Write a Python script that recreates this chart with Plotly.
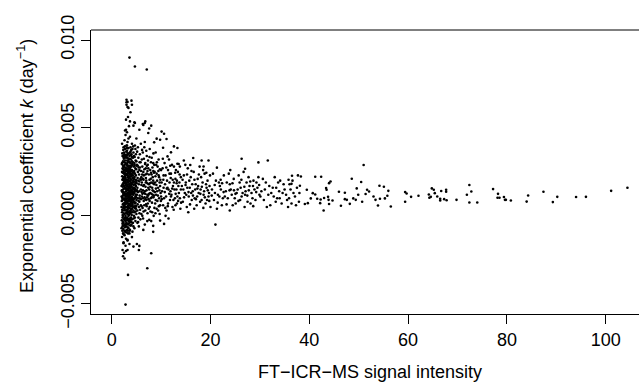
import plotly.graph_objects as go

# Values: (signal intensity, k in 1e-3 day^-1)
core = [
(2.1,0.2),(2.3,1.5),(2.2,-0.6),(2.4,2.8),(2.0,1.1),(2.2,3.4),(2.4,0.7),(2.1,-1.2),(2.3,2.1),(2.5,-0.2),
(2.2,1.8),(2.0,0.5),(2.4,3.9),(2.3,-1.0),(2.1,2.5),(2.5,1.2),(2.2,0.9),(2.4,-0.4),(2.0,1.7),(2.3,3.1),
(2.1,4.1),(2.4,1.9),(2.2,-0.1),(2.5,2.4),(2.3,0.3),(2.1,1.4),(2.4,-1.5),(2.2,2.7),(2.0,-0.7),(2.5,3.6),
(2.3,0.0),(2.2,1.0),(2.4,2.2),(2.1,3.0),(2.5,0.6),
(2.6,1.3),(2.8,-0.3),(2.7,2.6),(2.9,0.8),(2.6,4.3),(2.8,1.9),(3.0,0.2),(2.7,-0.9),(2.9,3.3),(2.6,2.0),
(2.8,0.5),(2.7,1.6),(3.0,2.9),(2.6,-0.5),(2.9,1.1),(2.7,3.8),(2.8,2.3),(2.6,0.1),(3.0,1.5),(2.9,-1.3),
(2.7,0.9),(2.8,3.0),(2.6,1.7),(3.0,4.0),(2.7,-0.1),(2.9,2.0),(2.8,1.2),(2.6,3.5),(3.0,0.7),(2.7,2.4),
(2.9,-0.6),(2.8,4.6),(2.6,0.4),(3.0,1.8),(2.7,1.0),(2.9,2.7),(2.8,-1.7),(2.6,2.9),(3.0,-0.4),(2.7,0.3),
(2.9,1.4),(2.8,0.0),(2.6,-1.1),(3.0,3.4),(2.7,1.9),
(3.1,1.0),(3.3,2.2),(3.2,-0.2),(3.4,1.6),(3.1,3.7),(3.3,0.4),(3.2,2.8),(3.5,1.3),(3.1,-0.8),(3.4,3.1),
(3.2,0.8),(3.3,1.9),(3.1,2.4),(3.5,-0.3),(3.4,0.6),(3.2,4.2),(3.3,-1.0),(3.1,1.5),(3.5,2.6),(3.4,1.1),
(3.2,0.1),(3.3,3.5),(3.1,0.5),(3.4,2.0),(3.5,0.9),(3.2,1.7),(3.3,-0.5),(3.1,2.9),(3.4,4.4),(3.2,1.3),
(3.5,3.2),(3.3,0.7),(3.1,-0.1),(3.4,-0.7),(3.2,2.3),(3.3,1.2),(3.5,1.8),(3.1,4.0),(3.4,2.7),(3.2,-1.4),
(3.3,2.5),(3.5,0.2),(3.1,1.9),(3.4,0.0),(3.2,3.3),
(3.6,1.4),(3.8,0.3),(3.7,2.5),(3.9,1.0),(3.6,-0.4),(3.8,3.0),(3.7,1.8),(3.9,-0.1),(3.6,2.2),(4.0,1.3),
(3.7,0.6),(3.8,3.9),(3.6,1.0),(3.9,2.4),(3.7,-0.8),(4.0,0.4),(3.8,1.6),(3.6,3.4),(3.9,0.8),(3.7,2.0),
(3.8,-0.3),(3.6,0.1),(4.0,2.8),(3.7,4.5),(3.9,1.7),(3.8,0.9),(3.6,2.7),(4.0,-0.5),(3.7,1.2),(3.9,3.2),
(3.8,2.1),(3.6,0.7),(4.0,1.9),(3.7,3.6),(3.9,0.2),(3.8,1.3),(3.6,-1.0),(4.0,3.5),(3.7,-0.2),(3.9,2.6),
(4.1,1.1),(4.3,2.3),(4.2,0.2),(4.4,1.6),(4.1,3.1),(4.3,-0.4),(4.2,1.9),(4.5,0.8),(4.1,2.6),(4.4,3.6),
(4.2,0.6),(4.3,1.3),(4.1,-0.2),(4.5,2.1),(4.4,0.3),(4.2,2.9),(4.3,1.0),(4.1,4.1),(4.5,1.5),(4.4,-0.6),
(4.2,1.4),(4.3,3.3),(4.1,0.9),(4.5,2.8),(4.4,1.9),(4.2,-0.9),(4.3,0.5),(4.1,1.8),(4.5,0.0),(4.4,2.5),
(4.2,3.8),(4.3,2.0),(4.1,0.4),(4.5,3.4),(4.4,1.2),
(4.6,1.3),(4.8,0.5),(4.7,2.4),(4.9,1.7),(4.6,3.0),(4.8,-0.3),(4.7,1.0),(5.0,2.0),(4.6,0.2),(4.9,3.5),
(4.7,1.8),(4.8,2.7),(4.6,-0.7),(5.0,0.9),(4.9,1.2),(4.7,4.0),(4.8,1.5),(4.6,2.2),(5.0,3.1),(4.9,0.4),
(4.7,0.7),(4.8,3.8),(4.6,1.6),(5.0,1.4),(4.9,2.3),(4.7,-0.1),(4.8,1.1),(4.6,2.9),(5.0,0.1),(4.9,1.9),
]

core_fill = [
(2.05,0.85),(2.15,2.05),(2.25,-0.35),(2.35,1.25),(2.45,3.25),(2.55,0.45),(2.65,2.25),(2.75,-0.55),(2.85,1.55),(2.95,3.65),
(2.05,2.95),(2.15,-0.85),(2.25,1.65),(2.35,3.75),(2.45,0.15),(2.55,1.95),(2.65,-0.25),(2.75,3.15),(2.85,0.85),(2.95,2.35),
(3.05,-0.45),(3.15,1.75),(3.25,3.05),(3.35,0.25),(3.45,2.15),(3.55,-0.15),(3.65,1.55),(3.75,3.25),(3.85,0.55),(3.95,2.05),
(3.05,2.65),(3.15,0.35),(3.25,1.45),(3.35,3.85),(3.45,1.05),(3.55,2.45),(3.65,0.25),(3.75,1.15),(3.85,2.85),(3.95,-0.35),
(4.05,1.65),(4.15,2.95),(4.25,0.75),(4.35,2.15),(4.45,-0.15),(4.55,1.35),(4.65,3.35),(4.75,0.55),(4.85,2.05),(4.95,1.05),
(4.05,0.05),(4.15,1.25),(4.25,2.45),(4.35,3.95),(4.45,0.95),(4.55,2.55),(4.65,0.45),(4.75,1.45),(4.85,3.15),(4.95,2.65),
(2.05,-0.25),(2.15,1.05),(2.25,2.45),(2.35,0.45),(2.45,1.85),(2.55,-0.85),(2.65,0.95),(2.75,2.05),(2.85,3.45),(2.95,0.15),
(3.05,1.25),(3.15,2.55),(3.25,-0.65),(3.35,1.95),(3.45,0.45),(3.55,3.55),(3.65,2.35),(3.75,-0.55),(3.85,1.35),(3.95,3.75),
(2.15,3.55),(2.35,-0.75),(2.55,2.75),(2.75,1.25),(2.95,-0.95),(3.15,3.15),(3.35,-0.25),(3.55,0.65),(3.75,2.65),(3.95,1.45),
(2.25,0.65),(2.45,2.55),(2.65,3.95),(2.85,-0.15),(3.05,3.85),(3.25,2.05),(3.45,2.85),(3.65,-0.85),(3.85,2.25),(4.25,1.55),
(2.05,1.45),(2.45,-1.05),(2.85,2.65),(3.25,0.85),(3.65,3.05),(4.05,2.35),(4.45,1.75),(4.85,0.25),(2.35,2.05),(3.75,0.65),
(2.12,0.35),(2.18,1.35),(2.28,2.85),(2.32,-0.55),(2.38,1.75),(2.42,0.95),(2.48,3.45),(2.52,1.55),(2.58,-0.15),(2.62,2.45),
(2.68,1.15),(2.72,3.35),(2.78,0.65),(2.82,2.15),(2.88,-0.45),(2.92,1.75),(2.98,2.95),(3.02,0.95),(3.08,2.05),(3.12,-0.25),
(3.18,1.15),(3.22,3.55),(3.28,0.55),(3.32,2.65),(3.38,1.45),(3.42,-0.45),(3.48,2.25),(3.52,1.05),(3.58,3.05),(3.62,0.45),
(3.68,1.95),(3.72,2.85),(3.78,0.15),(3.82,1.85),(3.88,3.45),(3.92,1.25),(3.98,0.75),(4.02,2.55),(4.08,1.45),(4.12,3.35),
(2.12,2.25),(2.22,0.05),(2.32,2.65),(2.42,1.35),(2.52,3.05),(2.62,0.75),(2.72,1.85),(2.82,-0.85),(2.92,2.55),(3.02,1.65),
(3.12,2.95),(3.22,0.25),(3.32,1.55),(3.42,3.25),(3.52,0.05),(3.62,1.75),(3.72,0.95),(3.82,3.65),(3.92,-0.55),(4.02,1.05),
(2.18,-0.45),(2.28,1.15),(2.38,3.35),(2.48,0.55),(2.58,2.15),(2.68,-0.65),(2.78,2.75),(2.88,1.25),(2.98,0.35),(3.08,3.45),
(3.18,2.35),(3.28,-0.85),(3.38,2.45),(3.48,1.65),(3.58,0.85),(3.68,2.75),(3.78,1.55),(3.88,0.35),(3.98,2.25),(4.18,0.65),
]

extremes = [
(3.0,6.6),(3.2,6.48),(4.0,6.55),(3.0,6.32),(4.1,6.32),(3.4,6.14),(3.8,5.89),
(2.9,5.47),(4.7,5.28),(4.4,5.13),(6.3,5.22),(6.8,5.37),(5.6,4.9),(7.4,4.71),
(3.6,9.0),(4.7,8.49),(7.1,8.32),
(4.6,5.32),(6.7,5.28),(6.4,5.17),(8.0,5.13),(7.6,4.97),(10.1,4.79),(10.6,4.67),(9.1,4.39),
(9.8,4.33),(11.1,4.37),(8.6,4.18),(10.4,3.87),(12.6,3.95),(13.3,3.86),(12.0,3.61),(11.3,3.38),
(13.3,2.96),(14.6,3.15),(15.9,2.89),(16.5,3.29),(18.2,3.15),(19.6,3.15),(18.6,2.81),(26.3,3.25),
(27.0,2.68),(21.3,2.74),(29.7,3.04),(31.6,3.15),
(3.0,6.46),(3.2,6.19),(3.3,5.62),(3.7,5.37),(3.5,5.1),(2.9,4.9),(3.1,4.75),(2.7,4.85),
(2.8,-5.05),(3.3,-3.36),(2.6,-2.43),(7.2,-2.98),(8.0,-2.13),(5.5,-1.94),(5.6,-1.71),(5.1,-1.6),
(4.1,-1.21),(3.2,-1.37),(2.4,-1.56),(2.2,-1.94),(3.2,-1.94),(4.4,-1.75),(6.4,-0.8),(6.7,-0.5),
(8.4,-0.91),(8.4,-0.57),(10.6,-0.46),(11.5,-0.15),(9.8,-0.27),(7.6,-0.23),(21.0,-0.5),
(2.5,-2.1),(2.3,-2.3),(3.6,-1.6),(2.9,-2.0),
]

near = [
(5.1,1.2),(5.3,2.5),(5.2,0.3),(5.5,1.8),(5.4,3.3),(5.6,0.8),(5.2,-0.4),(5.8,2.1),(5.7,1.0),(5.3,3.9),
(5.9,1.5),(6.0,0.1),(5.4,2.0),(6.2,2.8),(6.1,1.1),(5.5,0.5),(6.3,3.6),(6.4,1.7),(5.6,2.6),(6.6,0.6),
(6.5,2.3),(5.8,-0.2),(6.7,1.4),(6.8,3.0),(5.9,4.1),(6.9,1.9),(7.0,0.9),(6.1,3.2),(7.1,2.4),(7.2,1.2),
(6.2,0.0),(7.3,2.9),(7.4,1.6),(6.3,1.0),(7.5,0.4),(6.4,2.5),(5.1,2.9),(5.2,1.6),(5.7,3.5),(6.0,2.2),
(6.6,3.9),(7.0,2.0),(7.3,0.7),(5.5,-0.6),(6.8,0.3),(7.1,3.4),(5.9,0.6),(6.5,1.3),(7.4,2.7),(5.3,1.0),
(6.1,1.9),(6.9,2.7),(7.2,-0.3),(5.6,1.4),(6.3,2.1),(7.5,1.8),(5.0,4.4),(6.7,4.2),(5.4,-0.1),(7.0,3.7),
(7.6,1.5),(7.8,2.6),(7.7,0.5),(8.0,1.9),(8.1,3.3),(7.9,1.0),(8.3,2.2),(8.2,0.2),(8.5,1.4),(8.4,3.0),
(8.6,1.8),(8.8,0.7),(8.7,2.5),(9.0,1.2),(8.9,3.6),(9.2,2.0),(9.1,0.4),(9.4,1.6),(9.3,2.8),(9.6,1.0),
(9.5,2.3),(9.8,1.7),(9.7,0.1),(10.0,2.6),(9.9,1.3),(7.7,3.8),(8.0,-0.3),(8.3,1.2),(8.6,2.9),(8.9,0.9),
(9.2,1.4),(9.5,3.2),(9.8,0.6),(7.9,2.1),(8.5,0.0),(9.1,2.4),(9.7,1.9),(10.0,1.1),(8.2,1.6),(8.8,1.9),
(9.4,0.3),(7.8,1.3),(8.4,2.0),(9.0,2.9),(9.6,2.2),
(5.05,1.85),(5.25,0.65),(5.45,2.75),(5.65,1.15),(5.85,3.05),(6.05,1.35),(6.25,0.45),(6.45,2.05),(6.65,1.05),(6.85,2.35),
(7.05,1.45),(7.25,2.55),(7.45,0.95),(7.65,2.05),(7.85,0.25),(8.05,1.25),(8.25,2.75),(8.45,1.05),(8.65,0.45),(8.85,2.25),
(9.05,1.75),(9.25,0.85),(9.45,2.55),(9.65,1.45),(9.85,2.05),(5.15,3.65),(5.35,-0.35),(5.55,2.35),(5.75,0.35),(5.95,2.55),
(6.15,3.75),(6.35,-0.15),(6.55,1.75),(6.75,2.95),(6.95,0.65),(7.15,1.05),(7.35,3.15),(7.55,1.25),(7.75,1.85),(7.95,3.05),
(8.15,0.75),(8.35,1.85),(8.55,2.45),(8.75,1.35),(8.95,1.55),(9.15,3.05),(9.35,1.15),(9.55,0.55),(9.75,2.65),(9.95,0.85),
(5.25,2.15),(5.65,3.05),(6.05,0.55),(6.45,0.25),(6.85,1.65),(7.25,0.15),(7.65,3.35),(8.05,2.35),(8.45,3.55),(8.85,0.15),
(4.22,2.15),(4.38,0.85),(4.52,2.45),(4.68,1.55),(4.82,0.75),(4.98,2.85),(5.12,1.45),(5.28,2.85),(5.42,0.85),(5.58,1.95),
(5.72,2.75),(5.88,0.95),(6.02,1.75),(6.18,2.35),(6.32,1.45),(6.48,0.85),(6.62,2.65),(6.78,1.25),(6.92,2.15),(7.08,0.55),
(7.22,1.85),(7.38,1.15),(7.52,2.35),(7.68,0.85),(7.82,1.65),(7.98,2.45),(8.12,1.05),(8.28,1.45),(8.42,2.55),(8.58,1.15),
(4.28,3.05),(4.62,1.95),(4.92,0.55),(5.32,1.35),(5.62,0.15),(5.92,2.05),(6.22,1.25),(6.52,3.25),(6.82,0.95),(7.12,2.85),
]

middle = [
(10.2,1.4),(10.5,2.3),(10.4,0.6),(10.8,1.8),(10.7,3.0),(11.0,1.1),(11.2,2.0),(11.1,0.3),(11.5,1.5),(11.4,2.6),
(11.8,0.9),(11.7,1.9),(12.0,2.4),(12.1,1.2),(12.3,0.5),(12.4,1.7),(12.6,2.8),(12.8,1.0),(12.9,2.1),(13.1,1.5),
(13.2,0.7),(13.4,2.5),(13.6,1.3),(13.7,1.9),(13.9,0.4),(14.0,2.2),(10.3,2.7),(10.6,1.0),(10.9,0.0),(11.3,1.6),
(11.6,3.2),(11.9,1.4),(12.2,2.9),(12.5,0.9),(12.7,1.5),(13.0,2.6),(13.3,1.1),(13.5,1.7),(13.8,2.8),(10.1,1.9),
(10.9,2.3),(11.4,0.7),(12.0,1.1),(12.6,1.9),(13.2,2.0),(13.8,1.0),(14.0,1.5),(10.5,1.6),(11.7,2.4),(12.9,0.6),
(14.2,1.7),(14.4,0.8),(14.6,2.3),(14.8,1.3),(15.0,1.9),(15.2,0.5),(15.4,2.7),(15.6,1.1),(15.8,1.6),(16.0,2.2),
(16.2,0.9),(16.4,1.4),(16.6,2.5),(16.8,1.0),(17.0,1.8),(17.2,0.6),(17.4,2.1),(17.6,1.3),(17.8,2.8),(18.0,1.5),
(18.2,0.9),(18.4,1.9),(18.6,1.2),(18.8,2.4),(19.0,0.7),(19.2,1.6),(19.4,2.0),(19.6,1.1),(19.8,1.7),(20.0,0.5),
(14.5,1.5),(15.1,1.2),(15.7,2.0),(16.3,1.8),(16.9,1.5),(17.5,1.7),(18.1,2.2),(18.7,1.4),(19.3,0.9),(19.9,2.3),
(14.9,2.9),(15.5,0.2),(16.1,1.3),(16.7,0.4),(17.3,1.1),(17.9,0.8),(18.5,2.6),(19.1,1.8),(19.7,1.3),(15.3,1.6),
(20.3,1.5),(20.7,0.9),(21.1,2.0),(21.5,1.2),(21.9,1.7),(22.3,0.6),(22.7,2.3),(23.1,1.4),(23.5,1.0),(23.9,1.8),
(24.3,1.2),(24.7,2.1),(25.1,0.7),(25.5,1.5),(25.9,1.9),(26.3,1.1),(26.7,2.5),(27.1,1.4),(27.5,0.8),(27.9,1.7),
(28.3,1.3),(28.7,2.0),(29.1,0.9),(29.5,1.6),(29.9,1.2),(20.5,2.4),(21.3,0.4),(22.1,1.5),(22.9,1.1),(23.7,2.4),
(24.5,0.6),(25.3,1.3),(26.1,1.6),(26.9,0.5),(27.7,2.2),(28.5,1.0),(29.3,1.9),(20.9,1.3),(21.7,1.9),(22.5,1.0),
(23.3,1.9),(24.1,1.5),(24.9,1.0),(25.7,2.3),(26.5,1.3),(27.3,1.9),(28.1,0.7),(28.9,1.5),(29.7,2.2),(23.9,0.3),
(26.0,0.9),(21.8,1.1),(24.0,2.6),(27.0,1.2),(28.6,1.7),
(10.15,0.95),(10.45,2.05),(10.75,1.35),(11.05,2.75),(11.35,0.55),(11.65,1.25),(11.95,2.15),(12.25,1.55),(12.55,0.35),(12.85,2.45),
(13.15,1.85),(13.45,0.85),(13.75,2.35),(14.05,0.75),(14.35,2.05),(14.65,1.05),(14.95,1.75),(15.25,2.35),(15.55,1.35),(15.85,0.65),
(16.15,2.55),(16.45,1.15),(16.75,2.05),(17.05,0.95),(17.35,1.55),(17.65,2.35),(17.95,1.25),(18.25,1.65),(18.55,0.45),(18.85,1.05),
(19.15,2.45),(19.45,1.45),(19.75,0.85),(10.35,3.25),(10.85,0.45),(11.15,1.55),(11.85,2.85),(12.35,2.05),(12.95,1.25),(13.55,2.95),
(20.25,1.15),(20.85,1.75),(21.45,0.75),(22.05,2.05),(22.65,1.35),(23.25,0.65),(23.85,1.45),(24.45,1.85),(25.05,1.25),(25.65,0.85),
(26.25,2.05),(26.85,1.65),(27.45,1.15),(28.05,1.95),(28.65,0.55),(29.25,1.35),(29.85,1.75),(24.75,1.45),(22.35,1.85),(27.75,1.45),
(30.3,1.4),(30.8,0.9),(31.2,1.9),(31.7,1.2),(32.1,0.6),(32.6,1.6),(33.0,2.2),(33.5,1.0),(33.9,1.4),(34.4,0.7),
(34.8,1.8),(35.3,1.2),(35.7,0.5),(36.2,1.5),(36.6,2.0),(37.1,1.1),(37.5,1.6),(37.9,0.8),(30.6,2.1),(31.4,0.5),
(32.3,1.3),(33.2,0.8),(34.1,2.0),(35.0,1.5),(35.9,1.0),(36.8,1.3),(37.7,2.3),(30.1,1.1),(31.9,1.7),(33.7,1.9),
(35.5,0.9),(37.3,0.6),(32.8,1.1),(34.6,1.3),(36.4,0.7),(31.0,1.5),(33.3,1.6),(36.0,1.8),(34.0,1.0),(38.0,1.3),
]

tail = [
(38.3,2.24),(41.2,2.22),(42.4,2.22),(44.3,1.95),(44.0,1.86),(43.4,1.58),(43.5,1.48),(48.6,2.11),
(50.5,1.92),(46.0,1.37),(47.2,1.31),(49.6,1.56),(49.9,1.20),(51.4,1.24),(51.7,1.48),(52.1,1.38),
(54.2,1.71),(55.1,1.65),(56.0,1.42),(53.0,1.10),(53.4,0.91),(54.3,0.97),(55.3,0.99),(55.8,1.14),
(47.2,0.95),(47.6,0.91),(48.9,0.99),(49.4,0.91),(50.7,0.80),(48.2,0.68),(46.4,0.57),(53.9,0.59),
(56.5,0.53),(42.9,0.30),(43.8,1.08),(43.9,0.91),(44.7,0.87),(44.0,0.67),(39.5,1.48),(40.7,1.29),
(41.2,1.21),(40.3,0.99),(41.6,0.97),(42.3,0.93),(43.0,1.01),(42.2,0.72),(39.7,0.72),(39.1,0.67),
(38.1,1.71),(36.4,1.82),(36.5,2.28),(35.8,2.05),(51.0,2.89),(59.4,1.35),(59.7,1.27),(59.4,0.80),
(60.6,1.08),(62.1,1.14),
(64.2,1.21),(64.3,1.03),(64.6,1.08),(64.8,1.56),(65.2,1.48),(65.4,1.29),(65.9,1.10),(66.5,0.97),
(66.5,0.87),(66.7,1.41),(67.3,0.95),(67.7,1.48),(67.7,1.37),(67.8,0.89),(69.8,0.91),(71.9,1.20),
(72.4,1.75),(72.8,1.38),(72.4,0.76),(74.0,0.76),(77.2,1.52),(78.2,1.25),(78.1,1.03),(78.5,1.03),
(79.4,1.07),(79.6,0.91),(79.8,0.91),(80.8,0.87),(84.0,0.81),(84.3,1.16),(87.4,1.37),(89.3,0.78),
(90.2,1.08),(94.0,1.07),(96.0,1.08),(101.1,1.42),(104.4,1.60),
]

x_ticks = [0, 20, 40, 60, 80, 100]
y_ticks = [-0.005, 0.0, 0.005, 0.010]
y_tick_labels = ["\u22120.005", "0.000", "0.005", "0.010"]

groups = [core, core_fill, extremes, near, middle, tail]
xs = [p[0] for g in groups for p in g]
ys = [p[1] * 1e-3 for g in groups for p in g]

FONT = "Liberation Sans, Arial, Helvetica, sans-serif"
FS = 18

fig = go.Figure(go.Scatter(
    x=xs, y=ys, mode="markers",
    marker=dict(color="black", size=2.6, line=dict(width=0)),
    hoverinfo="skip",
))

fig.update_layout(
    width=639, height=386,
    margin=dict(l=91, r=0, t=30, b=72),
    paper_bgcolor="white", plot_bgcolor="white",
    showlegend=False,
    font=dict(family=FONT, size=FS, color="black"),
    shapes=[dict(type="line", xref="paper", yref="paper", x0=0, x1=1, y0=1, y1=1,
                 line=dict(color="black", width=1))],
    annotations=[
        dict(text="FT\u2212ICR\u2212MS signal intensity", xref="paper", yref="paper",
             x=(370 - 91) / 548, y=-(372 - 314) / 284, xanchor="center", yanchor="middle",
             showarrow=False, font=dict(family=FONT, size=FS, color="black")),
        dict(text="Exponential coefficient <i>k</i> (day<sup>\u22121</sup>)", xref="paper", yref="paper",
             x=(25 - 91) / 548, y=(314 - 166) / 284, xanchor="center", yanchor="middle",
             textangle=-90, showarrow=False, font=dict(family=FONT, size=FS, color="black")),
    ],
)

fig.update_xaxes(
    range=[-4.19, 106.74], tickvals=x_ticks, ticktext=[str(v) for v in x_ticks],
    ticks="outside", ticklen=9, tickwidth=1, tickcolor="black",
    showline=True, linecolor="black", linewidth=1,
    showgrid=False, zeroline=False,
)
fig.update_yaxes(
    range=[-0.005584, 0.01057], tickvals=y_ticks, ticktext=y_tick_labels,
    tickangle=-90, ticks="outside", ticklen=9, tickwidth=1, tickcolor="black",
    showline=True, linecolor="black", linewidth=1,
    showgrid=False, zeroline=False,
)

fig.write_html("out.html")
